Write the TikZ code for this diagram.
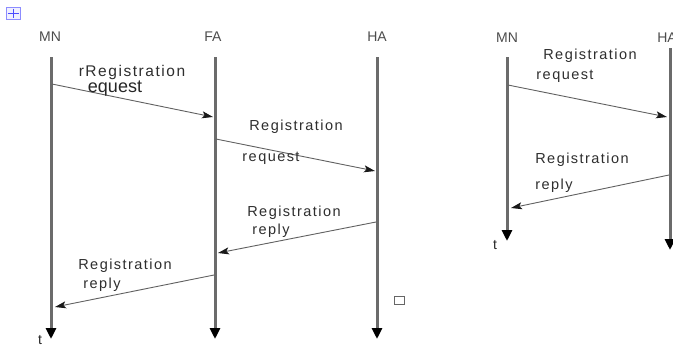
\documentclass[tikz,border=0pt]{standalone}
\usepackage{fontspec}
\setmainfont{Liberation Sans}
\newfontfamily\labfont[LetterSpace=10]{Liberation Sans}
\usetikzlibrary{arrows.meta}
\begin{document}
\begin{tikzpicture}[x=1pt,y=-1pt,
  lifeline/.style={draw=black!58, line width=3pt,
    -{Triangle[width=10pt,length=11pt,color=black]}},
  msg/.style={draw=black!62, line width=0.9pt,
    -{Stealth[length=11pt,width=7pt,inset=2.5pt,color=black!90]}},
  head/.style={font=\fontsize{14}{14}\selectfont, text=black!70, inner sep=0pt},
  lab/.style={font=\labfont\fontsize{14.5}{14.5}\selectfont, text=black!82, inner sep=0pt},
  tlab/.style={font=\fontsize{14}{14}\selectfont, text=black!85, inner sep=0pt},
]
\clip (0,0) rectangle (673,349);
\fill[white] (0,0) rectangle (673,349);

% move handle in the corner
\node[draw=blue!45, fill=blue!6, line width=0.6pt, minimum width=14pt,
      minimum height=12pt, inner sep=0pt] (handle) at (13,13) {};
\draw[blue!70, line width=0.7pt] (7.5,13) -- (18.5,13) (13,8.5) -- (13,17.5);

% ---------- left chart: MN, FA, HA ----------
\node[head] (mnL) at (50,37) {MN};
\node[head] (faL) at (213,37) {FA};
\node[head] (haL) at (377,37) {HA};

\coordinate (mnLtop) at (51,57);  \coordinate (mnLbot) at (51,339);
\coordinate (faLtop) at (215,57); \coordinate (faLbot) at (215,339);
\coordinate (haLtop) at (377,57); \coordinate (haLbot) at (377,339);
\draw[lifeline] (mnLtop) -- (mnLbot);
\draw[lifeline] (faLtop) -- (faLbot);
\draw[lifeline] (haLtop) -- (haLbot);

\coordinate (m1s) at (52,84);   \coordinate (m1e) at (213,117);
\coordinate (m2s) at (216,139); \coordinate (m2e) at (375,171);
\coordinate (m3s) at (376,222); \coordinate (m3e) at (218,253);
\coordinate (m4s) at (214,275); \coordinate (m4e) at (55,307);
\draw[msg] (m1s) -- (m1e);
\draw[msg] (m2s) -- (m2e);
\draw[msg] (m3s) -- (m3e);
\draw[msg] (m4s) -- (m4e);

\node[lab, font=\labfont\fontsize{15.5}{15.5}\selectfont] (l1a) at (132,72) {rRegistration};
\node[font=\fontsize{18}{18}\selectfont, text=black!85, inner sep=0pt] (l1b) at (115,89) {equest};
\node[lab] (l2a) at (296,127) {Registration};
\node[lab] (l2b) at (271,158) {request};
\node[lab] (l3a) at (294,213) {Registration};
\node[lab] (l3b) at (271,231) {reply};
\node[lab] (l4a) at (125,266) {Registration};
\node[lab] (l4b) at (102,285) {reply};

\node[tlab] (tL) at (40,340) {t};
\node[draw=black!60, line width=0.8pt, minimum width=10pt, minimum height=8pt,
      inner sep=0pt] (mark) at (399,300) {};

% ---------- right chart: MN, HA ----------
\node[head] (mnR) at (507,38) {MN};
\node[head] (haR) at (667,38) {HA};

\coordinate (mnRtop) at (507,57); \coordinate (mnRbot) at (507,241);
\coordinate (haRtop) at (670,48); \coordinate (haRbot) at (670,250);
\draw[lifeline] (mnRtop) -- (mnRbot);
\draw[lifeline] (haRtop) -- (haRbot);

\coordinate (r1s) at (508,85);  \coordinate (r1e) at (667,117);
\coordinate (r2s) at (669,175); \coordinate (r2e) at (511,208);
\draw[msg] (r1s) -- (r1e);
\draw[msg] (r2s) -- (r2e);

\node[lab] (r1a) at (590,56) {Registration};
\node[lab] (r1b) at (565,76) {request};
\node[lab] (r2a) at (582,160) {Registration};
\node[lab] (r2b) at (554,186) {reply};

\node[tlab] (tR) at (495,245) {t};
\end{tikzpicture}
\end{document}
